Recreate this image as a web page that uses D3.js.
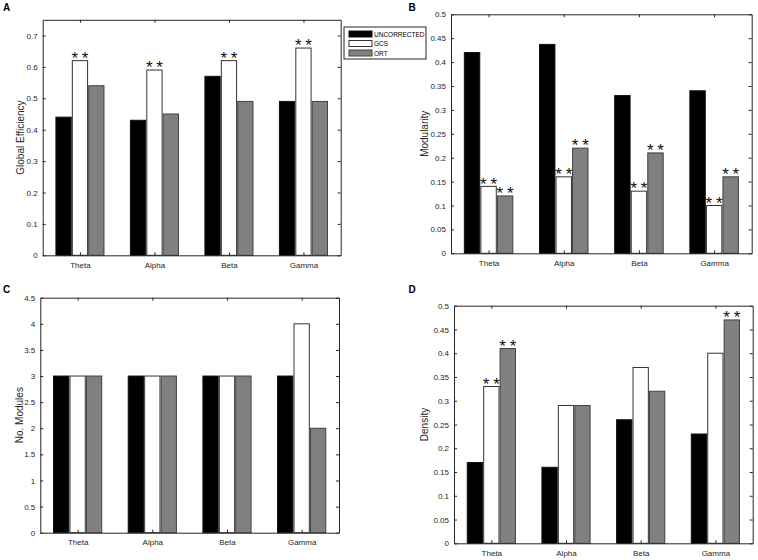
<!DOCTYPE html>
<html>
<head>
<meta charset="utf-8">
<script src="https://cdn.jsdelivr.net/npm/d3@7"></script>
<style>
  html, body { margin: 0; padding: 0; background: #fff; }
  svg { display: block; font-family: "Liberation Sans", Arial, sans-serif; }
</style>
</head>
<body>
<svg id="chart" width="758" height="560"></svg>
<script>
// ---------- data ----------
const categories = ["Theta", "Alpha", "Beta", "Gamma"];
const seriesNames = ["UNCORRECTED", "GCS", "ORT"];

// A: Global Efficiency
const effUncorrected = [0.44, 0.43, 0.57, 0.49];
const effGCS         = [0.62, 0.59, 0.62, 0.66];
const effORT         = [0.54, 0.45, 0.49, 0.49];
const effTicks = [0, 0.1, 0.2, 0.3, 0.4, 0.5, 0.6, 0.7];
const effStars = [[0, 1], [1, 1], [2, 1], [3, 1]]; // [category, series]

// B: Modularity
const modUncorrected = [0.42, 0.437, 0.33, 0.34];
const modGCS         = [0.14, 0.16, 0.13, 0.10];
const modORT         = [0.12, 0.22, 0.21, 0.16];
const modTicks = [0, 0.05, 0.1, 0.15, 0.2, 0.25, 0.3, 0.35, 0.4, 0.45, 0.5];
const modStars = [[0, 1], [0, 2], [1, 1], [1, 2], [2, 1], [2, 2], [3, 1], [3, 2]];

// C: No. Modules
const modulesUncorrected = [3, 3, 3, 3];
const modulesGCS         = [3, 3, 3, 4];
const modulesORT         = [3, 3, 3, 2];
const modulesTicks = [0, 0.5, 1, 1.5, 2, 2.5, 3, 3.5, 4, 4.5];
const modulesStars = [];

// D: Density
const densUncorrected = [0.17, 0.16, 0.26, 0.23];
const densGCS         = [0.33, 0.29, 0.37, 0.40];
const densORT         = [0.41, 0.29, 0.32, 0.47];
const densTicks = [0, 0.05, 0.1, 0.15, 0.2, 0.25, 0.3, 0.35, 0.4, 0.45, 0.5];
const densStars = [[0, 1], [0, 2], [3, 2]];

// ---------- layout / style ----------
const fills   = ["#000000", "#ffffff", "#808080"];
const strokes = ["#111111", "#333333", "#404040"];
const axisColor = "#262626";

const panels = [
  { label: "A", ylabel: "Global Efficiency", series: [effUncorrected, effGCS, effORT], ticks: effTicks, ymax: 0.75, stars: effStars,
    left: 42.7, right: 340.7, top: 19.8, bottom: 255.3, ylabelX: 20.5, labelX: 3, labelY: 11 },
  { label: "B", ylabel: "Modularity", series: [modUncorrected, modGCS, modORT], ticks: modTicks, ymax: 0.5, stars: modStars,
    left: 451, right: 751.7, top: 14.3, bottom: 253.3, ylabelX: 424, labelX: 408.5, labelY: 10.5 },
  { label: "C", ylabel: "No. Modules", series: [modulesUncorrected, modulesGCS, modulesORT], ticks: modulesTicks, ymax: 4.5, stars: modulesStars,
    left: 40.3, right: 339, top: 297.7, bottom: 532.7, ylabelX: 19, labelX: 3, labelY: 292.5 },
  { label: "D", ylabel: "Density", series: [densUncorrected, densGCS, densORT], ticks: densTicks, ymax: 0.5, stars: densStars,
    left: 454, right: 752.7, top: 305.7, bottom: 543.3, ylabelX: 424, labelX: 408.5, labelY: 292.5 }
];

const svg = d3.select("#chart");
const barW = 0.205, barStep = 0.22, tickLen = 3;

panels.forEach(p => {
  const x = d3.scaleLinear().domain([0.5, 4.5]).range([p.left, p.right]);
  const y = d3.scaleLinear().domain([0, p.ymax]).range([p.bottom, p.top]);
  const g = svg.append("g");

  // bars
  p.series.forEach((vals, j) => {
    g.selectAll(null).data(vals).enter().append("rect")
      .attr("x", (d, i) => x(i + 1 + (j - 1) * barStep - barW / 2))
      .attr("width", (d, i) => x(i + 1 + barW / 2) - x(i + 1 - barW / 2))
      .attr("y", d => y(d))
      .attr("height", d => y(0) - y(d))
      .attr("fill", fills[j])
      .attr("stroke", strokes[j])
      .attr("stroke-width", 1);
  });

  // significance stars ("**" drawn as two positioned glyphs)
  const st = g.selectAll(null).data(p.stars).enter().append("text")
    .attr("text-anchor", "middle")
    .attr("font-size", 17)
    .attr("fill", "#111");
  [-5.2, 5.2].forEach(off => {
    st.append("tspan")
      .attr("x", d => x(d[0] + 1 + (d[1] - 1) * barStep) + off)
      .attr("y", d => y(p.series[d[1]][d[0]]) + 3.2)
      .text("*");
  });

  // axes (MATLAB style box with inward ticks)
  const yAxisL = d3.axisLeft(y).tickValues(p.ticks).tickSizeInner(-tickLen).tickSizeOuter(0).tickPadding(5).tickFormat(d => String(d));
  const yAxisR = d3.axisRight(y).tickValues(p.ticks).tickSizeInner(-tickLen).tickSizeOuter(0).tickFormat("");
  const xAxisB = d3.axisBottom(x).tickValues([1, 2, 3, 4]).tickSizeInner(-tickLen).tickSizeOuter(0).tickPadding(7).tickFormat(d => categories[d - 1]);
  const xAxisT = d3.axisTop(x).tickValues([1, 2, 3, 4]).tickSizeInner(-tickLen).tickSizeOuter(0).tickFormat("");

  const styleAxis = sel => {
    sel.selectAll("path").attr("stroke", axisColor).attr("stroke-width", 1);
    sel.selectAll("line").attr("stroke", axisColor).attr("stroke-width", 1);
    sel.selectAll("text").attr("fill", axisColor).attr("font-size", 8).attr("font-family", "Liberation Sans, Arial, sans-serif");
  };
  g.append("g").attr("transform", `translate(${p.left},0)`).call(yAxisL).call(styleAxis);
  g.append("g").attr("transform", `translate(${p.right},0)`).call(yAxisR).call(styleAxis);
  g.append("g").attr("transform", `translate(0,${p.bottom})`).call(xAxisB).call(styleAxis);
  g.append("g").attr("transform", `translate(0,${p.top})`).call(xAxisT).call(styleAxis);

  // y label
  g.append("text")
    .attr("transform", `translate(${p.ylabelX},${(p.top + p.bottom) / 2}) rotate(-90)`)
    .attr("text-anchor", "middle")
    .attr("dominant-baseline", "central")
    .attr("font-size", 10)
    .attr("fill", axisColor)
    .text(p.ylabel);

  // panel letter
  svg.append("text")
    .attr("x", p.labelX).attr("y", p.labelY)
    .attr("font-size", 10).attr("font-weight", "bold")
    .attr("fill", "#000")
    .text(p.label);
});

// legend
const legX = 344, legY = 27, legW = 82, legH = 32;
const leg = svg.append("g");
leg.append("rect").attr("x", legX).attr("y", legY).attr("width", legW).attr("height", legH)
  .attr("fill", "#fff").attr("stroke", axisColor).attr("stroke-width", 1);
const ly = d3.scalePoint().domain(seriesNames).range([legY + 7, legY + 26]);
seriesNames.forEach((name, j) => {
  leg.append("rect").attr("x", legX + 5).attr("y", ly(name) - 3).attr("width", 23).attr("height", 6)
    .attr("fill", fills[j]).attr("stroke", strokes[j]).attr("stroke-width", 1);
  leg.append("text").attr("x", legX + 30).attr("y", ly(name))
    .attr("dominant-baseline", "central").attr("font-size", 6.5).attr("fill", "#000")
    .text(name);
});
</script>
</body>
</html>
